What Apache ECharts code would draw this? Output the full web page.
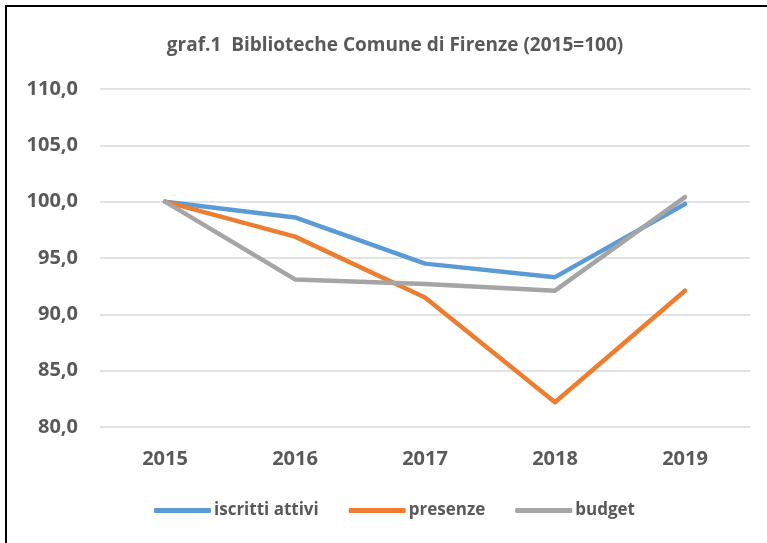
<!DOCTYPE html>
<html>
<head>
<meta charset="utf-8">
<script src="https://cdn.jsdelivr.net/npm/echarts@6/dist/echarts.min.js"></script>
<style>
	html, body { margin: 0; padding: 0; background: #fff; }
	#frame { position: absolute; left: 5px; top: 5px; width: 762px; height: 538px; border-left: 2px solid #000; border-top: 2px solid #000; box-sizing: border-box; }
	#chart { position: absolute; left: 0; top: 0; width: 767px; height: 543px; }
</style>
</head>
<body>
<div id="frame"></div>
<div id="chart"></div>
<script>
	let years = ['2015', '2016', '2017', '2018', '2019'];
	let iscritti = [100.0, 98.6, 94.5, 93.3, 99.8];
	let presenze = [100.0, 96.9, 91.5, 82.2, 92.1];
	let budget = [100.0, 93.1, 92.7, 92.1, 100.4];
	let seriesNames = ['iscritti attivi', 'presenze', 'budget'];
	let seriesColors = ['#5B9BD5', '#ED7D31', '#A5A5A5'];

	let font = '"Open Sans", sans-serif';
	let grey = '#595959';

	function lineSeries(name, data, color) {
		return {
			name: name,
			type: 'line',
			data: data,
			symbol: 'none',
			smooth: false,
			lineStyle: { color: color, width: 4.5, cap: 'round', join: 'round' },
			itemStyle: { color: color }
		};
	}

	let chart = echarts.init(document.getElementById('chart'));
	chart.setOption({
		animation: false,
		backgroundColor: 'transparent',
		title: {
			text: 'graf.1  Biblioteche Comune di Firenze (2015=100)',
			left: 390,
			textAlign: 'center',
			top: 31,
			textStyle: { color: grey, fontFamily: font, fontWeight: 'bold', fontSize: 19 }
		},
		legend: {
			bottom: 19,
			left: 149,
			itemWidth: 57,
			itemHeight: 5,
			itemGap: 30,
			icon: 'roundRect',
			data: seriesNames,
			textStyle: { color: grey, fontFamily: font, fontWeight: 'bold', fontSize: 17, padding: [0, 0, 0, -2] }
		},
		grid: { left: 100, right: 17, top: 89, bottom: 116, containLabel: false },
		xAxis: {
			type: 'category',
			data: years,
			boundaryGap: true,
			axisLine: { show: false },
			axisTick: { show: false },
			axisLabel: { color: grey, fontFamily: font, fontWeight: 'bold', fontSize: 20, margin: 22 }
		},
		yAxis: {
			type: 'value',
			min: 80,
			max: 110,
			interval: 5,
			axisLine: { show: false },
			axisTick: { show: false },
			splitLine: { lineStyle: { color: '#D9D9D9', width: 1.5 } },
			axisLabel: {
				color: grey, fontFamily: font, fontWeight: 'bold', fontSize: 20, margin: 22,
				formatter: function (v) { return v.toFixed(1).replace('.', ','); }
			}
		},
		series: [
			lineSeries(seriesNames[0], iscritti, seriesColors[0]),
			lineSeries(seriesNames[1], presenze, seriesColors[1]),
			lineSeries(seriesNames[2], budget, seriesColors[2])
		]
	});
</script>
</body>
</html>
